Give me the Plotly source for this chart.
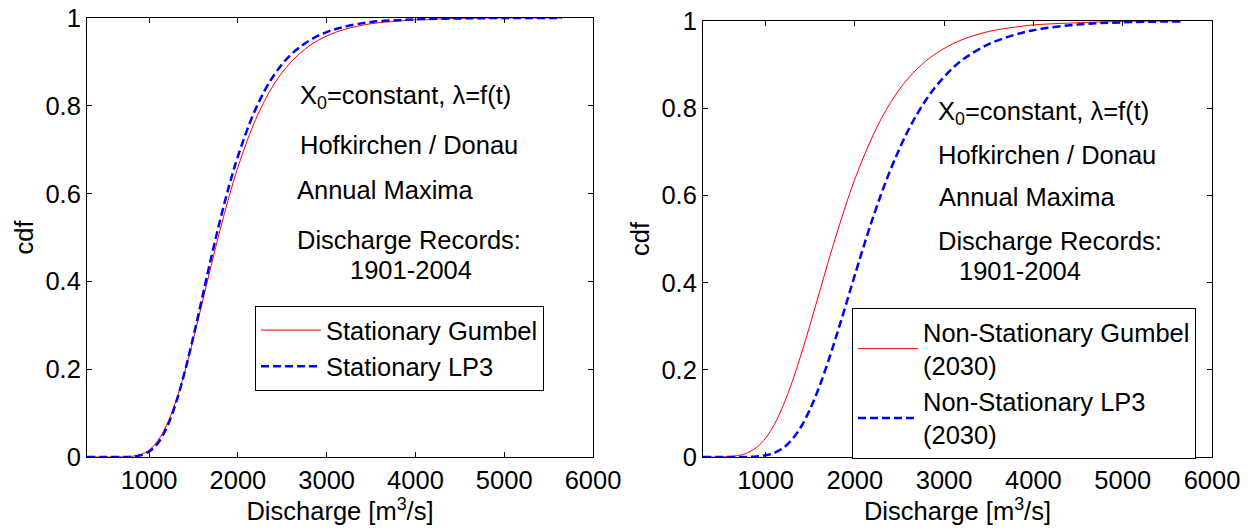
import plotly.graph_objects as go

# ---- data ----
discharge = [300, 500, 700, 800, 900, 1000, 1100, 1200, 1300, 1400, 1500, 1600,
             1700, 1800, 1900, 2000, 2200, 2400, 2600, 2800, 3000, 3200, 3500,
             3800, 4000, 4500, 5000, 5650]

stationary_gumbel = [0, 0, 0.0003, 0.0015, 0.0056, 0.016, 0.038, 0.074, 0.126, 0.193,
                     0.270, 0.353, 0.437, 0.518, 0.593, 0.660, 0.769, 0.847, 0.900,
                     0.936, 0.959, 0.974, 0.987, 0.993, 0.996, 0.999, 1.0, 1.0]
stationary_lp3 = [0, 0, 0.0001, 0.0008, 0.0037, 0.0125, 0.032, 0.068, 0.122, 0.193,
                  0.276, 0.365, 0.455, 0.540, 0.617, 0.685, 0.793, 0.868, 0.917,
                  0.948, 0.968, 0.980, 0.991, 0.995, 0.997, 0.999, 1.0, 1.0]

nonstat_gumbel = [0, 0.0003, 0.0036, 0.0097, 0.022, 0.043, 0.075, 0.119, 0.173, 0.236,
                  0.304, 0.375, 0.446, 0.514, 0.578, 0.637, 0.736, 0.813, 0.869,
                  0.909, 0.937, 0.957, 0.976, 0.986, 0.991, 0.996, 0.999, 1.0]
nonstat_lp3 = [0, 0, 0.0001, 0.0003, 0.0012, 0.0038, 0.0097, 0.021, 0.041, 0.070,
               0.110, 0.160, 0.218, 0.282, 0.349, 0.417, 0.547, 0.659, 0.750,
               0.820, 0.872, 0.910, 0.947, 0.969, 0.979, 0.992, 0.997, 0.999]

x_ticks = [1000, 2000, 3000, 4000, 5000, 6000]
y_ticks = [0, 0.2, 0.4, 0.6, 0.8, 1]
y_ticklabels = ["0", "0.2", "0.4", "0.6", "0.8", "1"]

left_names = ["Stationary Gumbel", "Stationary LP3"]
right_names = ["Non-Stationary Gumbel<br>(2030)", "Non-Stationary LP3<br>(2030)"]
info_lines = ["X<sub>0</sub>=constant, \u03bb=f(t)", "Hofkirchen / Donau",
              "Annual Maxima", "Discharge Records:", "1901-2004"]

# ---- styling ----
W, H = 1250, 531
FONT = "Liberation Sans, Arial, Helvetica, sans-serif"
FS = 25.5
RED = "#ff0000"
BLUE = "#0000ff"


def px(x):
    return x / W


def py(y):
    return 1 - y / H


fig = go.Figure()

fig.add_trace(go.Scatter(x=discharge, y=stationary_gumbel, mode="lines",
                         name=left_names[0], line=dict(color=RED, width=1, shape="spline"),
                         xaxis="x", yaxis="y", legend="legend"))
fig.add_trace(go.Scatter(x=discharge, y=stationary_lp3, mode="lines",
                         name=left_names[1], line=dict(color=BLUE, width=2.5, dash="8px,4px", shape="spline"),
                         xaxis="x", yaxis="y", legend="legend"))
fig.add_trace(go.Scatter(x=discharge, y=nonstat_gumbel, mode="lines",
                         name=right_names[0], line=dict(color=RED, width=1, shape="spline"),
                         xaxis="x2", yaxis="y2", legend="legend2"))
fig.add_trace(go.Scatter(x=discharge, y=nonstat_lp3, mode="lines",
                         name=right_names[1], line=dict(color=BLUE, width=2.5, dash="8px,4px", shape="spline"),
                         xaxis="x2", yaxis="y2", legend="legend2"))

axis_common = dict(showline=True, linecolor="black", linewidth=1, mirror="allticks",
                   ticks="inside", ticklen=5, tickcolor="black", showgrid=False,
                   zeroline=False, automargin=False,
                   tickfont=dict(family=FONT, size=FS, color="black"))

xtitle = dict(text="Discharge [m<sup>3</sup>/s]", font=dict(family=FONT, size=FS, color="black"), standoff=8)
ytitle = dict(text="cdf", font=dict(family=FONT, size=FS, color="black"), standoff=4)

legend_common = dict(xanchor="left", yanchor="top", bordercolor="black", borderwidth=1,
                     bgcolor="white", font=dict(family=FONT, size=FS, color="black"),
                     tracegroupgap=0, itemwidth=60)

fig.update_layout(
    width=W, height=H,
    margin=dict(l=0, r=0, t=0, b=0, autoexpand=False),
    paper_bgcolor="white", plot_bgcolor="white",
    font=dict(family=FONT, size=FS, color="black"),
    xaxis=dict(domain=[px(87), px(593)], range=[300, 6000], tickvals=x_ticks,
               anchor="y", title=xtitle, **axis_common),
    yaxis=dict(domain=[py(457), py(18)], range=[0, 1], tickvals=y_ticks,
               ticktext=y_ticklabels, anchor="x", title=ytitle, **axis_common),
    xaxis2=dict(domain=[px(703), px(1212)], range=[300, 6000], tickvals=x_ticks,
                anchor="y2", title=xtitle, **axis_common),
    yaxis2=dict(domain=[py(457), py(21)], range=[0, 1], tickvals=y_ticks,
                ticktext=y_ticklabels, anchor="x2", title=ytitle, **axis_common),
    legend=dict(x=px(255), y=py(306), **legend_common),
    legend2=dict(x=px(852), y=py(308), **legend_common),
    showlegend=True,
)

left_pos = [(298, 97), (298, 145), (295, 190), (295, 240), (348, 270)]
right_pos = [(936, 113), (936, 155), (937, 197), (936, 241), (957, 271)]
for (lx, ly), (rx, ry), txt in zip(left_pos, right_pos, info_lines):
    for (ax, ay) in [(lx, ly), (rx, ry)]:
        fig.add_annotation(x=px(ax), y=py(ay), xref="paper", yref="paper",
                           text=txt, showarrow=False, xanchor="left", yanchor="middle",
                           font=dict(family=FONT, size=FS, color="black"))

fig.write_html("out.html")
